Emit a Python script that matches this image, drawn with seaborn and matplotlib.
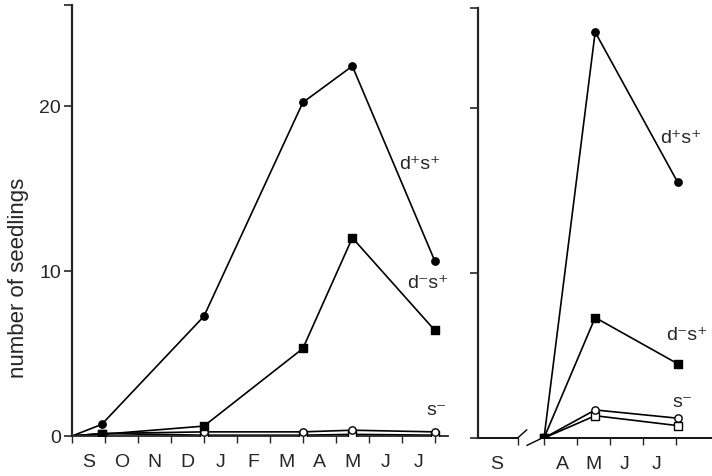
import matplotlib
import matplotlib.pyplot as plt
import seaborn as sns

matplotlib.use('Agg')

# data (x in months from 1 September; right panel uses a broken axis)
month_labels_left = ['S', 'O', 'N', 'D', 'J', 'F', 'M', 'A', 'M', 'J', 'J']
x_left = [0.0, 0.9, 4.0, 7.0, 8.5, 11.0]
dpsp_left = [0.0, 0.7, 7.25, 20.2, 22.4, 10.6]
dmsp_left = [0.0, 0.1, 0.6, 5.3, 12.0, 6.4]
sm_circ_left = [0.0, 0.15, 0.25, 0.25, 0.35, 0.25]
sm_sq_left = [0.0, 0.15, 0.05, 0.05, 0.1, 0.05]

month_labels_right = ['S', 'A', 'M', 'J', 'J']
x_right = [2.0, 3.55, 6.05]
dpsp_right = [0.0, 24.6, 15.5]
dmsp_right = [0.0, 7.3, 4.5]
sm_circ_right = [0.0, 1.7, 1.2]
sm_sq_right = [0.0, 1.35, 0.75]

sns.set_style('ticks')
plt.rcParams['font.family'] = ['Liberation Sans', 'DejaVu Sans']
plt.rcParams['font.size'] = 14

fig = plt.figure(figsize=(7.12, 4.77), dpi=100)
ax1 = fig.add_axes([72 / 712, 40 / 477, 376 / 712, 431 / 477])
ax2 = fig.add_axes([478 / 712, 38 / 477, 234 / 712, 430 / 477])


def draw_series(ax, x, y, marker, filled, skip_first):
    sns.lineplot(x=x, y=y, color='black', lw=1.2, ax=ax, zorder=2)
    xs = x[1:] if skip_first else x
    ys = y[1:] if skip_first else y
    sns.scatterplot(x=xs, y=ys, marker=marker, s=28,
                    color='black' if filled else 'white',
                    edgecolor='black', linewidth=1.0, ax=ax,
                    zorder=4 if filled else 3)


series_left = [(sm_sq_left, 's', False), (sm_circ_left, 'o', False),
               (dmsp_left, 's', True), (dpsp_left, 'o', True)]
for y, m, f in series_left:
    draw_series(ax1, x_left, y, m, f, True)

series_right = [(sm_sq_right, 's', False), (sm_circ_right, 'o', False),
                (dmsp_right, 's', True), (dpsp_right, 'o', True)]
for y, m, f in series_right:
    draw_series(ax2, x_right, y, m, f, False)

for ax in (ax1, ax2):
    ax.spines['top'].set_visible(False)
    ax.spines['right'].set_visible(False)
    ax.spines['left'].set_linewidth(1.6)
    ax.spines['bottom'].set_linewidth(1.3)
    ax.tick_params(axis='y', direction='out', length=6, width=1.2, pad=2,
                   labelsize=14)
    ax.tick_params(axis='x', which='major', direction='out', length=5,
                   width=1.0, labelbottom=False)
    ax.tick_params(axis='x', which='minor', length=0, pad=12, labelsize=14)

# left panel
ax1.set_xlim(0, 11.4)
ax1.set_ylim(0, 26.1)
ax1.set_yticks([0, 10, 20, 26.1])
ax1.set_yticklabels(['0', '10', '20', ''])
ax1.set_xticks(range(0, 12))
ax1.set_xticks([i + 0.5 for i in range(11)], minor=True)
ax1.set_xticklabels(month_labels_left, minor=True)
ax1.set_ylabel('number of seedlings', fontsize=16)
ax1.yaxis.set_label_coords(-0.115, 0.37)

ax1.text(10.55, 16.5, 'd\u207as\u207a', ha='center', va='center', fontsize=14)
ax1.text(10.8, 9.3, 'd\u207bs\u207a', ha='center', va='center', fontsize=14)
ax1.text(11.05, 1.6, 's\u207b', ha='center', va='center', fontsize=14)

# right panel with broken x axis
ax2.set_xlim(0, 7.09)
ax2.set_ylim(0, 26.06)
ax2.set_yticks([0, 10, 20, 26.06])
ax2.set_yticklabels([])
ax2.spines['bottom'].set_visible(False)
ax2.set_xticks([1.2, 2, 3, 4, 5, 6])
ax2.set_xticks([0.55, 2.55, 3.5, 4.45, 5.4], minor=True)
ax2.set_xticklabels(month_labels_right, minor=True)
ax2.plot([0, 1.2], [0, 0], color='black', lw=1.3, clip_on=False)
ax2.plot([2.0, 7.09], [0, 0], color='black', lw=1.3, clip_on=False)
ax2.plot([1.2, 1.48], [0.0, 0.5], color='black', lw=1.0, clip_on=False)
ax2.plot([1.48, 2.05], [-0.45, 0.1], color='black', lw=1.0, clip_on=False)

ax2.text(6.15, 18.2, 'd\u207as\u207a', ha='center', va='center', fontsize=14)
ax2.text(6.33, 6.3, 'd\u207bs\u207a', ha='center', va='center', fontsize=14)
ax2.text(6.2, 2.2, 's\u207b', ha='center', va='center', fontsize=14)

fig.savefig('out.png', dpi=100)
